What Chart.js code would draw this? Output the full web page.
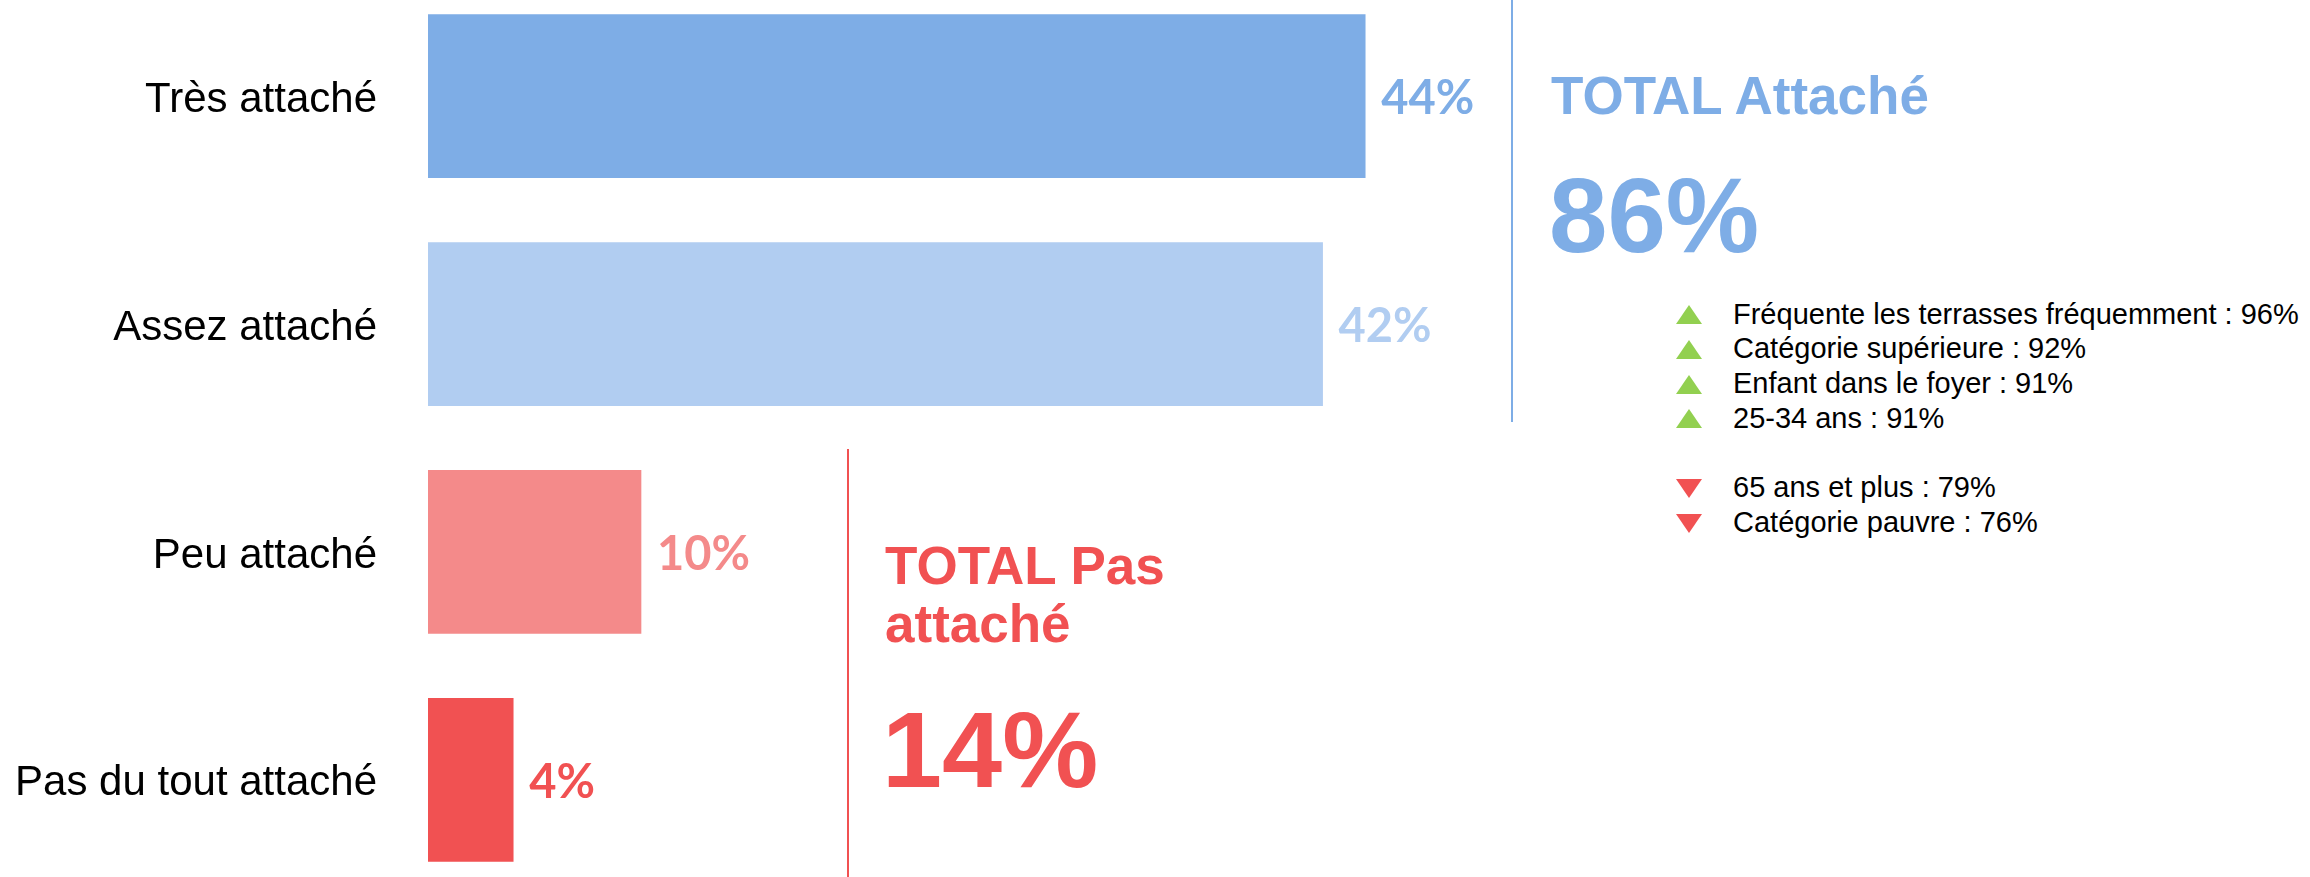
<!DOCTYPE html>
<html>
<head>
    <meta charset="utf-8">
    <title>Attachement</title>
    <script src="https://cdn.jsdelivr.net/npm/chart.js@4.4.0/dist/chart.umd.min.js"></script>
    <style>
        html, body { margin: 0; padding: 0; background: #fff; }
        body { width: 2310px; height: 877px; position: relative; overflow: hidden; font-family: "Liberation Sans", Arial, sans-serif; }
        /* le canvas déborde en haut/bas : l'axe y réserve une demi-hauteur de libellé */
        #wrap { position: absolute; left: 0; top: -43px; width: 1493px; height: 962px; }
        .txt { position: absolute; white-space: nowrap; font-weight: bold; }
        .vline { position: absolute; width: 2px; }
        #liste { position: absolute; left: 1733px; top: 296.5px; font-size: 29px; color: #000; }
        #liste .row { position: relative; height: 34.8px; line-height: 34.8px; white-space: nowrap; }
        .tri { position: absolute; left: -57px; top: 8.5px; width: 0; height: 0;
               border-left: 13.5px solid transparent; border-right: 13.5px solid transparent; }
        .up { border-bottom: 19px solid #92D050; }
        .down { border-top: 19px solid #F15152; }
    </style>
</head>
<body>
    <div id="wrap"><canvas id="grafico"></canvas></div>

    <div class="vline" style="left:1511px; top:0; height:422px; background:#7EADE6;"></div>
    <div class="vline" style="left:847px; top:449px; height:428px; background:#F15152;"></div>

    <div class="txt" id="titreHaut" style="left:1551px; top:69px; font-size:53px; line-height:53px; color:#7EADE6;"></div>
    <div class="txt" id="totalHaut" style="left:1549px; top:163px; font-size:105px; line-height:105px; color:#7EADE6;"></div>
    <div class="txt" id="titreBas" style="left:885px; top:537px; font-size:53px; line-height:58px; color:#F15152;"></div>
    <div class="txt" id="totalBas" style="left:882px; top:696px; font-size:108px; line-height:108px; color:#F15152;"></div>

    <div id="liste"></div>

    <script>
        // Données
        const categories = ['Très attaché', 'Assez attaché', 'Peu attaché', 'Pas du tout attaché'];
        const valeurs = [44, 42, 10, 4];
        const couleurs = ['#7EADE6', '#B1CDF1', '#F48A8A', '#F15152'];

        const totalAttache = 86;
        const totalPasAttache = 14;

        const hausseLabels = ['Fréquente les terrasses fréquemment', 'Catégorie supérieure', 'Enfant dans le foyer', '25-34 ans'];
        const hausseValeurs = [96, 92, 91, 91];
        const baisseLabels = ['65 ans et plus', 'Catégorie pauvre'];
        const baisseValeurs = [79, 76];

        // Textes à droite
        document.getElementById('titreHaut').textContent = 'TOTAL Attaché';
        document.getElementById('totalHaut').textContent = totalAttache + '%';
        document.getElementById('titreBas').innerHTML = 'TOTAL Pas<br>attaché';
        document.getElementById('totalBas').textContent = totalPasAttache + '%';

        var liste = document.getElementById('liste');
        function ajouterLigne(texte, sens) {
            var row = document.createElement('div');
            row.className = 'row';
            if (sens) {
                var t = document.createElement('span');
                t.className = 'tri ' + sens;
                row.appendChild(t);
                row.appendChild(document.createTextNode(texte));
            }
            liste.appendChild(row);
        }
        hausseLabels.forEach(function (l, i) { ajouterLigne(l + ' : ' + hausseValeurs[i] + '%', 'up'); });
        ajouterLigne('', null);
        baisseLabels.forEach(function (l, i) { ajouterLigne(l + ' : ' + baisseValeurs[i] + '%', 'down'); });

        // Étiquettes de valeur au bout des barres
        const etiquettes = {
            id: 'etiquettes',
            afterDatasetsDraw(chart) {
                const ctx = chart.ctx;
                const meta = chart.getDatasetMeta(0);
                ctx.save();
                ctx.font = 'bold 47px Lato, "Open Sans", sans-serif';
                ctx.textAlign = 'left';
                ctx.textBaseline = 'middle';
                meta.data.forEach(function (bar, i) {
                    ctx.fillStyle = couleurs[i];
                    ctx.fillText(valeurs[i] + '%', bar.x + 16, bar.y + 3);
                });
                ctx.restore();
            }
        };

        var ctxBar = document.getElementById('grafico').getContext('2d');
        var chartBar = new Chart(ctxBar, {
            type: 'bar',
            data: {
                labels: categories,
                datasets: [{
                    data: valeurs,
                    backgroundColor: couleurs,
                    borderWidth: 0,
                    barThickness: 163
                }]
            },
            options: {
                indexAxis: 'y',
                responsive: true,
                maintainAspectRatio: false,
                animation: false,
                layout: { padding: 0 },
                plugins: {
                    legend: { display: false },
                    tooltip: { enabled: false }
                },
                scales: {
                    x: {
                        display: false,
                        min: 0,
                        max: 50
                    },
                    y: {
                        grid: { display: false, drawTicks: true, tickLength: 51 },
                        border: { display: false },
                        ticks: {
                            color: '#000',
                            padding: 0,
                            labelOffset: 4,
                            autoSkip: false,
                            font: { family: '"Liberation Sans", Arial, sans-serif', size: 42 }
                        },
                        afterFit: function (scale) { scale.width = 428; }
                    }
                }
            },
            plugins: [etiquettes]
        });
    </script>
</body>
</html>
